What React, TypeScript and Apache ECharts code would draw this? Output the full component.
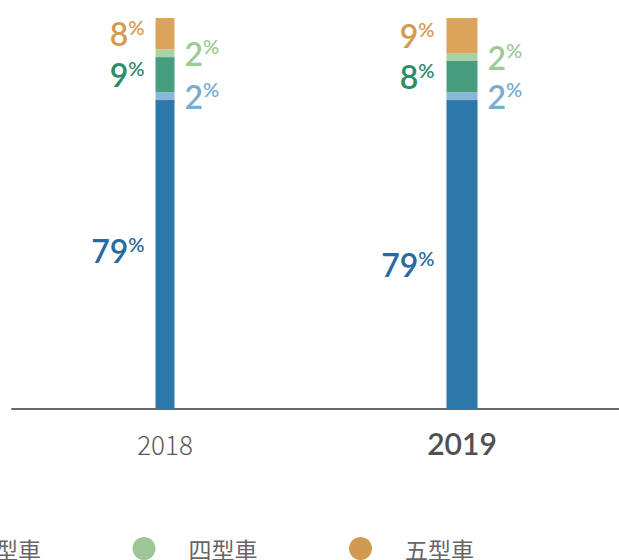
import React, { useEffect, useRef } from 'react';
import * as echarts from 'echarts';

const years = ['2018', '2019'];
const types = ['一型車', '二型車', '三型車', '四型車', '五型車'];
const values2018 = [79, 2, 9, 2, 8];
const values2019 = [79, 2, 8, 2, 9];
const barColors = ['#2c78a8', '#8cb6d8', '#469d7f', '#a8d3a5', '#dca35b'];
const labelColors = ['#2a6a9f', '#79acd2', '#2c8b6b', '#9dca95', '#d49b50'];
const legendColors = ['#2c78a8', '#8cb6d8', '#469d7f', '#9dc595', '#d09b50'];
const labelSides = ['left', 'right', 'left', 'right', 'left'];

const yearValues = [values2018, values2019];
const barWidths = [19, 31];
const leftDist = [11, 12];
const rightDist = [10, 10];
const bigLabelOffsetY = [-4, 10];

function buildOption() {
  const series: any[] = [];
  years.forEach((yr, yi) => {
    types.forEach((t, ti) => {
      const v = yearValues[yi][ti];
      const side = labelSides[ti];
      const item: any = { value: v };
      if (ti === 0) item.label = { offset: [0, bigLabelOffsetY[yi]] };
      const data = years.map((_, k) => (k === yi ? item : '-'));
      series.push({
        type: 'bar',
        name: t,
        stack: 'y' + yr,
        xAxisIndex: yi,
        yAxisIndex: 0,
        barWidth: barWidths[yi],
        data,
        itemStyle: { color: barColors[ti] },
        emphasis: { disabled: true },
        label: {
          show: true,
          position: side,
          distance: side === 'left' ? leftDist[yi] : rightDist[yi],
          formatter: '{n|{c}}{p|%}',
          rich: {
            n: { fontSize: 32, fontWeight: 600, fontFamily: 'Lato', color: labelColors[ti], lineHeight: 34 },
            p: { fontSize: 20, fontWeight: 600, fontFamily: 'Lato', color: labelColors[ti], lineHeight: 26, verticalAlign: 'top' },
          },
        },
      });
    });
  });

  return {
    animation: false,
    legend: {
      data: types.map((t, i) => ({ name: t, itemStyle: { color: legendColors[i] } })),
      left: -517,
      top: 537,
      padding: 0,
      icon: 'circle',
      itemWidth: 23,
      itemHeight: 23,
      itemGap: 91.5,
      selectedMode: false,
      textStyle: {
        fontSize: 23,
        color: '#666',
        fontFamily: 'Noto Sans CJK TC',
        padding: [0, 0, 0, 28],
      },
    },
    grid: [
      { left: 16.5, right: 8.5, top: 18, bottom: 151 },
      { left: 12, right: 0, top: 18, bottom: 151 },
    ],
    xAxis: [
      {
        type: 'category',
        gridIndex: 0,
        data: years,
        axisLine: { show: false },
        axisTick: { show: false },
        axisLabel: {
          margin: 17,
          formatter: (v: string) => (v === '2019' ? `{b|${v}}` : `{a|${v}}`),
          rich: {
            a: { fontSize: 26, fontWeight: 300, color: '#5a5a5a', fontFamily: 'Noto Sans CJK TC', lineHeight: 34 },
            b: { fontSize: 30, fontWeight: 600, color: '#505050', fontFamily: 'Lato', lineHeight: 34 },
          },
        },
      },
      { type: 'category', gridIndex: 0, data: years, show: false },
      {
        type: 'category',
        gridIndex: 1,
        data: years,
        axisLine: { show: true, lineStyle: { color: '#6a6a6a', width: 2 } },
        axisTick: { show: false },
        axisLabel: { show: false },
      },
    ],
    yAxis: [
      { type: 'value', gridIndex: 0, min: 0, max: 100, show: false },
      { type: 'value', gridIndex: 1, min: 0, max: 100, show: false },
    ],
    series,
  };
}

export default function App() {
  const ref = useRef<HTMLDivElement>(null);
  useEffect(() => {
    if (!ref.current) return;
    const chart = echarts.init(ref.current, undefined, { renderer: 'svg' });
    chart.setOption(buildOption() as any);
    return () => chart.dispose();
  }, []);
  return (
    <div
      ref={ref}
      style={{ position: 'fixed', left: 0, top: 0, width: 619, height: 560, background: '#fff' }}
    />
  );
}
